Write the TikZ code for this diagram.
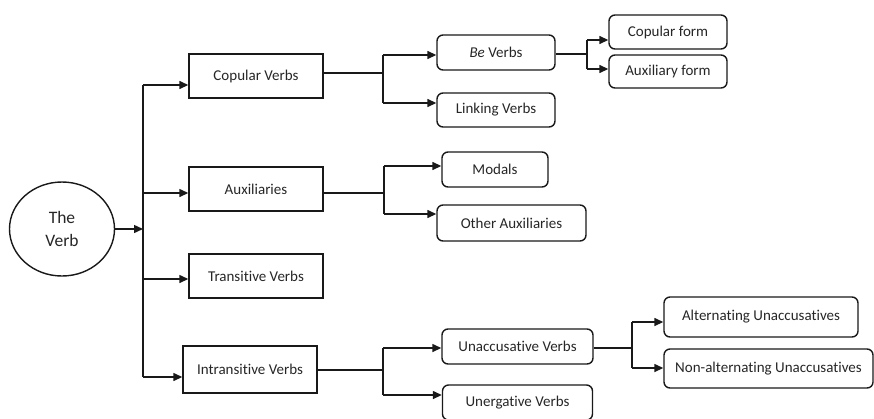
\documentclass[tikz,border=0pt]{standalone}
\usepackage{fontspec}
\setmainfont{Carlito}[Ligatures={NoCommon}]
\usetikzlibrary{arrows.meta,shapes.geometric}

\tikzset{
  line/.style={draw=black!90, line width=1.4pt},
  arr/.style={line, -{Triangle[length=9pt,width=8pt]}},
  sqbox/.style={line, rectangle, minimum width=134pt, minimum height=44pt,
    inner sep=0pt, font=\fontsize{15pt}{17pt}\selectfont, text=black!85},
  rbox/.style={line, rectangle, rounded corners=6pt, inner sep=0pt,
    font=\fontsize{15pt}{17pt}\selectfont, text=black!85},
}

\begin{document}
\begin{tikzpicture}[x=1pt,y=-1pt]
\useasboundingbox (0,0) rectangle (874,418);
\begin{scope}
\clip (0,0) rectangle (874,418);

% root
\node[line, ellipse, minimum width=105pt, minimum height=94pt, inner sep=0pt,
  align=center, font=\fontsize{17.5pt}{23pt}\selectfont, text=black!85]
  (verb) at (62,229) {The\\Verb};

% first level
\node[sqbox] (cop)   at (256,76)    {Copular Verbs};
\node[sqbox] (aux)   at (256,189)   {Auxiliaries};
\node[sqbox] (trans) at (256,276)   {Transitive Verbs};
\node[sqbox, minimum height=47pt] (intr) at (250,369.5) {Intransitive Verbs};

% second level
\node[rbox, minimum width=118pt, minimum height=35pt] (be)   at (496,52.5) {\textit{Be} Verbs};
\node[rbox, minimum width=118pt, minimum height=34pt] (link) at (496,110)  {Linking Verbs};
\node[rbox, minimum width=106pt, minimum height=35pt] (mod)  at (495,169.5) {Modals};
\node[rbox, minimum width=149pt, minimum height=36pt] (oaux) at (511.5,223) {Other Auxiliaries};
\node[rbox, minimum width=151pt, minimum height=35pt] (unacc) at (517.5,346.5) {Unaccusative Verbs};
\node[rbox, minimum width=150pt, minimum height=35pt] (unerg) at (517.5,402.5) {Unergative Verbs};

% third level
\node[rbox, minimum width=118pt, minimum height=34pt] (cform) at (668,32)   {Copular form};
\node[rbox, minimum width=118pt, minimum height=33pt] (aform) at (668,71.5) {Auxiliary form};
\node[rbox, minimum width=194pt, minimum height=40pt] (alt)   at (761,317)  {Alternating Unaccusatives};
\node[rbox, minimum width=209pt, minimum height=39pt] (nalt)  at (768.5,368.5) {Non-alternating Unaccusatives};

% trunk from the root
\coordinate (t1) at (143,85);
\coordinate (t2) at (143,193);
\coordinate (t3) at (143,279);
\coordinate (t4) at (143,377);
\coordinate (tm) at (143,229);
\draw[arr] (verb.east) -- (tm);
\draw[line] (t1) -- (t4);
\draw[arr] (t1) -- (t1 -| cop.west);
\draw[arr] (t2) -- (t2 -| aux.west);
\draw[arr] (t3) -- (t3 -| trans.west);
\draw[arr] (t4) -- (t4 -| intr.west);

% copular verbs
\coordinate (c0) at (cop.east |- 0,73);
\coordinate (c1) at (383,55);
\coordinate (c2) at (383,103);
\draw[line] (c0) -- (c0 -| c1);
\draw[line] (c1) -- (c2);
\draw[arr] (c1) -- (c1 -| be.west);
\draw[arr] (c2) -- (c2 -| link.west);

% be verbs
\coordinate (b0) at (be.east |- 0,54);
\coordinate (b1) at (587,40);
\coordinate (b2) at (587,69);
\draw[line] (b0) -- (b0 -| b1);
\draw[line] (b1) -- (b2);
\draw[arr] (b1) -- (b1 -| cform.west);
\draw[arr] (b2) -- (b2 -| aform.west);

% auxiliaries
\coordinate (a0) at (aux.east |- 0,193);
\coordinate (a1) at (384,166);
\coordinate (a2) at (384,214);
\draw[line] (a0) -- (a0 -| a1);
\draw[line] (a1) -- (a2);
\draw[arr] (a1) -- (a1 -| mod.west);
\draw[arr] (a2) -- (a2 -| oaux.west);

% intransitive verbs
\coordinate (i0) at (intr.east |- 0,370);
\coordinate (i1) at (383,348);
\coordinate (i2) at (383,395);
\draw[line] (i0) -- (i0 -| i1);
\draw[line] (i1) -- (i2);
\draw[arr] (i1) -- (i1 -| unacc.west);
\draw[arr] (i2) -- (i2 -| unerg.west);

% unaccusative verbs
\coordinate (u0) at (unacc.east |- 0,348);
\coordinate (u1) at (632,322);
\coordinate (u2) at (632,368);
\draw[line] (u0) -- (u0 -| u1);
\draw[line] (u1) -- (u2);
\draw[arr] (u1) -- (u1 -| alt.west);
\draw[arr] (u2) -- (u2 -| nalt.west);
\end{scope}
\end{tikzpicture}
\end{document}
